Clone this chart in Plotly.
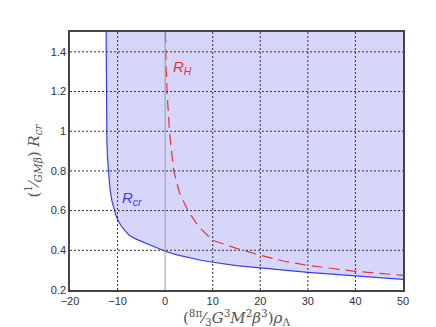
import plotly.graph_objects as go

# axis limits and ticks
x_range = [-20, 50]
y_range = [0.2, 1.5]
x_ticks = [-20, -10, 0, 10, 20, 30, 40, 50]
y_ticks = [0.2, 0.4, 0.6, 0.8, 1.0, 1.2, 1.4]
y_ticklabels = ["0.2", "0.4", "0.6", "0.8", "1", "1.2", "1.4"]

# R_cr curve (solid blue, boundary of shaded region)
rcr_x = [-12.4, -12.4, -12.35, -12.25, -12.1, -11.9, -11.6, -11.2, -10.8, -10.4, -10.0, -9.3, -8.5, -7.5, -6.0, -4.0, -2.0, 0.0, 2.5, 5.0, 7.5, 10.0, 15.0, 20.0, 25.0, 30.0, 35.0, 40.0, 45.0, 50.0]
rcr_y = [1.5, 1.2, 1.05, 0.95, 0.86, 0.78, 0.71, 0.65, 0.61, 0.58, 0.555, 0.525, 0.5, 0.475, 0.455, 0.435, 0.415, 0.395, 0.377, 0.362, 0.35, 0.34, 0.323, 0.311, 0.299, 0.289, 0.28, 0.272, 0.263, 0.254]

# R_H curve (dashed red)
rh_x = [0.05, 0.1, 0.2, 0.4, 0.9, 1.8, 3.0, 4.8, 7.0, 10.0, 15.0, 20.0, 25.0, 30.0, 35.0, 40.0, 45.0, 50.0]
rh_y = [1.5, 1.42, 1.32, 1.2, 1.0, 0.8, 0.69, 0.6, 0.52, 0.45, 0.41, 0.375, 0.345, 0.324, 0.308, 0.294, 0.284, 0.274]

fill_x = rcr_x + [x_range[1], rcr_x[0]]
fill_y = rcr_y + [y_range[1], y_range[1]]

fig = go.Figure()
fig.add_trace(go.Scatter(x=fill_x, y=fill_y, fill="toself", fillcolor="#d6d6fa",
                         line=dict(width=0), mode="lines", hoverinfo="skip"))

# grid drawn above the shaded area, as in the original
grid = dict(color="#333333", width=1, dash="2px,2px")
for xv in x_ticks[1:-1]:
    if xv == 0:
        continue
    fig.add_shape(type="line", xref="x", yref="paper", x0=xv, x1=xv, y0=0, y1=1,
                  line=grid, layer="above")
for yv in y_ticks[1:]:
    fig.add_shape(type="line", xref="paper", yref="y", x0=0, x1=1, y0=yv, y1=yv,
                  line=grid, layer="above")
fig.add_shape(type="line", xref="x", yref="paper", x0=0, x1=0, y0=0, y1=1,
              line=dict(color="#999999", width=1), layer="above")

fig.add_trace(go.Scatter(x=rcr_x, y=rcr_y, mode="lines", line=dict(color="#3c3cf0", width=1.2)))
fig.add_trace(go.Scatter(x=rh_x, y=rh_y, mode="lines", line=dict(color="#e8303c", width=1.2, dash="11px,6px")))

fig.add_annotation(x=3.6, y=1.32, text="<i>R<sub>H</sub></i>", showarrow=False,
                   font=dict(color="#e8303c", size=15, family="Arial"))
fig.add_annotation(x=-7.0, y=0.66, text="<i>R<sub>cr</sub></i>", showarrow=False,
                   font=dict(color="#3c3cf0", size=15, family="Arial"))

tickfont = dict(family="Arial", size=11, color="#30304a")
fig.update_layout(
    width=436, height=327, showlegend=False,
    margin=dict(l=62, r=41, t=24, b=45),
    plot_bgcolor="white", paper_bgcolor="white",
    xaxis=dict(range=x_range, tickvals=x_ticks, showgrid=False, zeroline=False,
               showline=True, linecolor="#444444", mirror=True, linewidth=1.5,
               ticks="", tickfont=tickfont, layer="above traces",
               title=dict(text="(<sup>8π</sup>⁄<sub>3</sub><i>G</i><sup>3</sup><i>M</i><sup>2</sup><i>β</i><sup>3</sup>)<i>ρ</i><sub>Λ</sub>",
                          font=dict(family="DejaVu Serif", size=15, color="#555555"), standoff=0)),
    yaxis=dict(range=y_range, tickvals=y_ticks, ticktext=y_ticklabels,
               showgrid=False, zeroline=False,
               showline=True, linecolor="#444444", mirror=True, linewidth=1.5,
               ticks="", tickfont=tickfont, layer="above traces",
               title=dict(text="(<sup>1</sup>⁄<sub><i>GMβ</i></sub>) <i>R</i><sub><i>cr</i></sub>",
                          font=dict(family="DejaVu Serif", size=15, color="#555555"), standoff=8)),
)

fig.write_html("out.html")
